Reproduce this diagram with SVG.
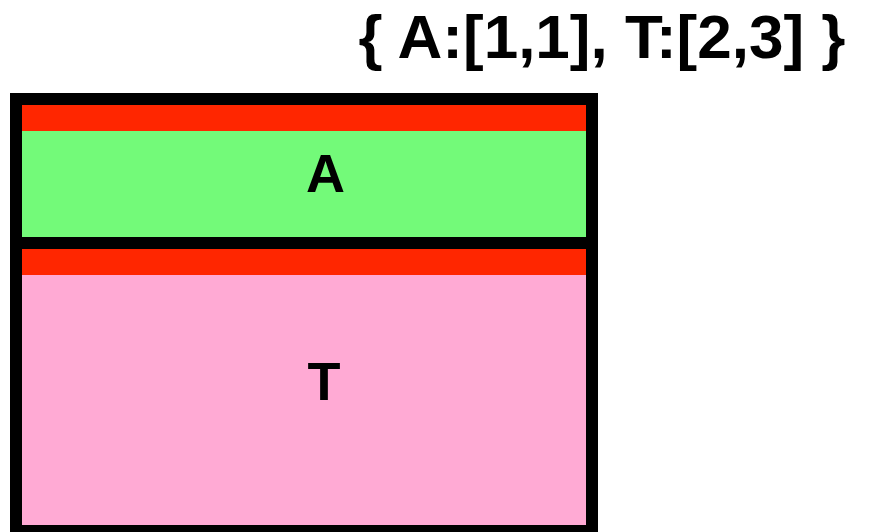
<svg xmlns="http://www.w3.org/2000/svg" width="881" height="532" viewBox="0 0 881 532">
<style>
.box{stroke:#000;stroke-width:12}
.bar{fill:#ff2600}
text{font-family:"Liberation Sans",Arial,sans-serif;font-weight:bold;fill:#000;text-anchor:middle}
.lbl{font-size:54px}
</style>
<rect width="881" height="532" fill="#fff"/>
<text x="602" y="58" font-size="62">{ A:[1,1], T:[2,3] }</text>
<g id="node-T">
<rect class="box" x="16" y="243" width="576" height="288" fill="#ffaad4"/>
<rect class="bar" x="22" y="249" width="564" height="26"/>
<text class="lbl" x="324" y="400">T</text>
</g>
<g id="node-A">
<rect class="box" x="16" y="99" width="576" height="144" fill="#73fa79"/>
<rect class="bar" x="22" y="105" width="564" height="26"/>
<text class="lbl" x="325.5" y="192">A</text>
</g>
<g id="connectors"/>
</svg>
